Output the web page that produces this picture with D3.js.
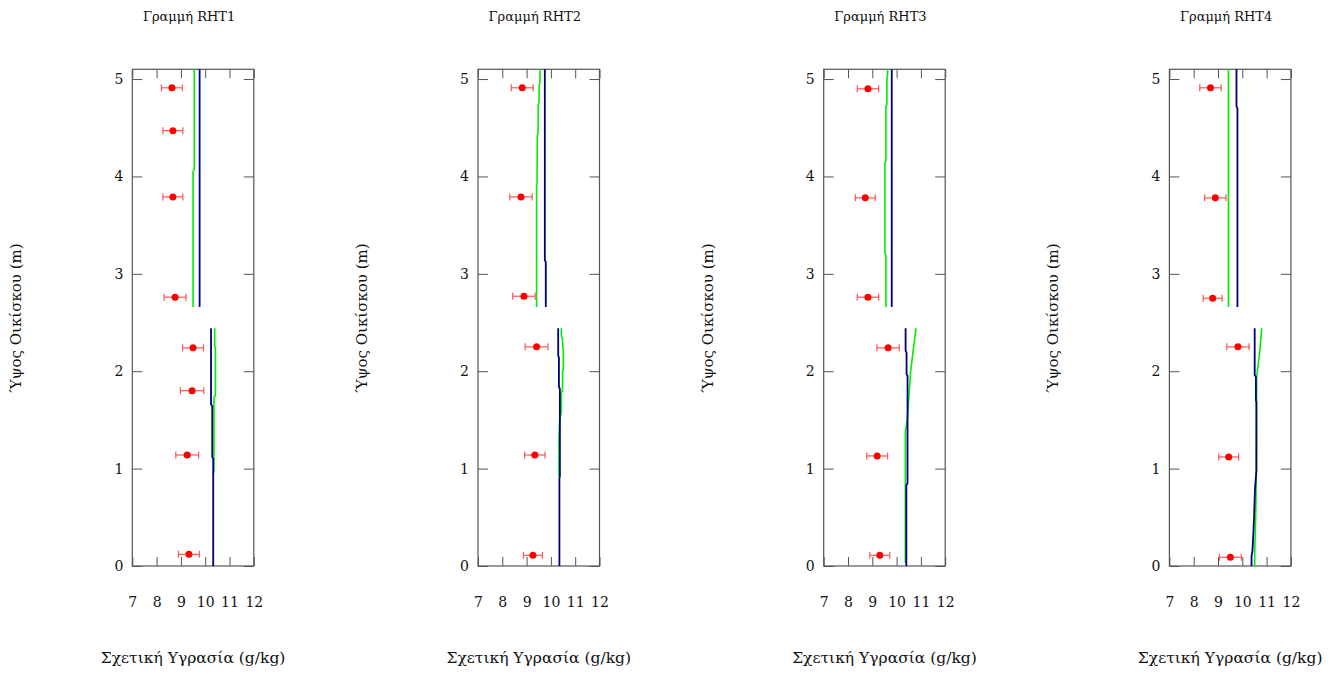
<!DOCTYPE html>
<html>
<head>
<meta charset="utf-8">
<script src="https://cdn.jsdelivr.net/npm/d3@7"></script>
<style>
  body { margin: 0; background: #fff; }
  text { font-family: "DejaVu Serif", "Liberation Serif", serif; fill: #111; }
</style>
</head>
<body>
<svg width="1337" height="675"></svg>
<script>
// panel titles
const titles = ['Γραμμή RHT1', 'Γραμμή RHT2', 'Γραμμή RHT3', 'Γραμμή RHT4']
const xTicks = [7, 8, 9, 10, 11, 12]
const yTicks = [0, 1, 2, 3, 4, 5]

// measured points: [humidity, height, error]
const rht1Points = [[8.63, 4.91, 0.43], [8.67, 4.47, 0.41], [8.67, 3.79, 0.41], [8.76, 2.76, 0.45],
                    [9.50, 2.24, 0.43], [9.46, 1.80, 0.48], [9.26, 1.14, 0.47], [9.33, 0.12, 0.43]]
const rht2Points = [[8.82, 4.91, 0.45], [8.77, 3.79, 0.46], [8.89, 2.77, 0.46],
                    [9.41, 2.25, 0.47], [9.34, 1.14, 0.42], [9.26, 0.11, 0.39]]
const rht3Points = [[8.82, 4.90, 0.44], [8.71, 3.78, 0.41], [8.82, 2.76, 0.44],
                    [9.65, 2.24, 0.46], [9.20, 1.13, 0.43], [9.31, 0.11, 0.41]]
const rht4Points = [[8.69, 4.91, 0.44], [8.89, 3.78, 0.44], [8.78, 2.75, 0.39],
                    [9.82, 2.25, 0.46], [9.44, 1.12, 0.41], [9.51, 0.09, 0.45]]

// simulated profiles (green / blue), upper and lower parts
const rht1GreenUp = [[9.55, 5.1], [9.55, 4.07], [9.50, 4.05], [9.50, 2.66]]
const rht1BlueUp = [[9.77, 5.1], [9.77, 2.66]]
const rht1GreenLo = [[10.39, 2.44], [10.39, 2.26], [10.42, 2.24], [10.42, 1.75], [10.36, 1.73], [10.36, 0.96]]
const rht1BlueLo = [[10.24, 2.44], [10.24, 1.66], [10.29, 1.64], [10.29, 1.12], [10.33, 1.10], [10.33, 0]]

const rht2GreenUp = [[9.55, 5.1], [9.55, 4.96], [9.52, 4.94], [9.51, 4.76], [9.48, 4.74], [9.47, 4.44],
                     [9.44, 4.42], [9.43, 3.93], [9.41, 3.91], [9.41, 2.66]]
const rht2BlueUp = [[9.75, 5.1], [9.75, 3.14], [9.79, 3.12], [9.79, 2.66]]
const rht2GreenLo = [[10.43, 2.44], [10.43, 2.36], [10.47, 2.34], [10.51, 2.2], [10.51, 2.03], [10.48, 2.0],
                     [10.48, 1.80], [10.43, 1.78], [10.43, 1.58], [10.36, 1.5], [10.33, 1.31], [10.33, 0.92]]
const rht2BlueLo = [[10.30, 2.44], [10.30, 2.16], [10.33, 2.14], [10.33, 1.84], [10.37, 1.82], [10.37, 0.92],
                    [10.35, 0.90], [10.35, 0]]

const rht3GreenUp = [[9.63, 5.1], [9.63, 5.04], [9.60, 5.0], [9.60, 4.74], [9.56, 4.72], [9.56, 4.16],
                     [9.52, 4.14], [9.52, 3.21], [9.56, 3.19], [9.56, 2.66]]
const rht3BlueUp = [[9.80, 5.1], [9.80, 2.66]]
const rht3GreenLo = [[10.80, 2.44], [10.70, 2.25], [10.58, 2.0], [10.50, 1.72], [10.44, 1.5], [10.36, 1.38], [10.36, 0.03]]
const rht3BlueLo = [[10.37, 2.44], [10.37, 2.21], [10.41, 2.19], [10.41, 1.97], [10.45, 1.95], [10.45, 0.85],
                    [10.40, 0.83], [10.40, 0]]

const rht4GreenUp = [[9.43, 5.1], [9.43, 2.66]]
const rht4BlueUp = [[9.76, 5.1], [9.76, 4.72], [9.80, 4.70], [9.80, 2.66]]
const rht4GreenLo = [[10.80, 2.44], [10.72, 2.2], [10.59, 1.94], [10.58, 1.0], [10.55, 0.5], [10.51, 0.15], [10.51, 0]]
const rht4BlueLo = [[10.51, 2.44], [10.51, 1.96], [10.56, 1.94], [10.56, 1.70], [10.58, 1.68], [10.58, 0.98],
                    [10.52, 0.78], [10.48, 0.47], [10.42, 0.16], [10.38, 0.1], [10.38, 0]]

const panels = [
  { points: rht1Points, green: [rht1GreenUp, rht1GreenLo], blue: [rht1BlueUp, rht1BlueLo] },
  { points: rht2Points, green: [rht2GreenUp, rht2GreenLo], blue: [rht2BlueUp, rht2BlueLo] },
  { points: rht3Points, green: [rht3GreenUp, rht3GreenLo], blue: [rht3BlueUp, rht3BlueLo] },
  { points: rht4Points, green: [rht4GreenUp, rht4GreenLo], blue: [rht4BlueUp, rht4BlueLo] }
]

//layout
const PANEL_LEFT = 132.3
const PANEL_STEP = 345.7
const PANEL_W = 121.5
const TOP = 69.3
const BOTTOM = 566

const x = d3.scaleLinear().domain([7, 12]).range([0, PANEL_W])
const y = d3.scaleLinear().domain([0, 5.1]).range([BOTTOM, TOP])

const svg = d3.select('svg')
const line = d3.line().x(d => x(d[0])).y(d => y(d[1]))
const fmt = d3.format('d')

panels.forEach((p, i) => {
  const g = svg.append('g').attr('transform', `translate(${PANEL_LEFT + i * PANEL_STEP}, 0)`)

  // ticks + labels
  const bottomAxis = g.append('g').attr('transform', `translate(0, ${BOTTOM})`)
    .call(d3.axisBottom(x).tickValues(xTicks).tickSizeInner(-9).tickSizeOuter(0).tickPadding(31).tickFormat(fmt))
  const topAxis = g.append('g').attr('transform', `translate(0, ${TOP})`)
    .call(d3.axisTop(x).tickValues(xTicks).tickSizeInner(-9).tickSizeOuter(0).tickFormat(''))
  const leftAxis = g.append('g')
    .call(d3.axisLeft(y).tickValues(yTicks).tickSizeInner(-10).tickSizeOuter(0).tickPadding(9).tickFormat(fmt))
  const rightAxis = g.append('g').attr('transform', `translate(${PANEL_W}, 0)`)
    .call(d3.axisRight(y).tickValues(yTicks).tickSizeInner(-10).tickSizeOuter(0).tickFormat(''))

  ;[bottomAxis, topAxis, leftAxis, rightAxis].forEach(a => {
    a.select('.domain').remove()
    a.selectAll('line').attr('stroke', '#555')
    a.selectAll('text').style('font-size', '14px').attr('fill', '#111')
      .style('font-family', '"DejaVu Serif", serif')
  })

  g.append('rect')
    .attr('x', 0).attr('y', TOP)
    .attr('width', PANEL_W).attr('height', BOTTOM - TOP)
    .attr('fill', 'none').attr('stroke', '#555').attr('stroke-width', 1.2)

  // profiles
  p.green.forEach(seg => {
    g.append('path').datum(seg).attr('d', line)
      .attr('fill', 'none').attr('stroke', '#00ee00').attr('stroke-width', 1.6)
  })
  p.blue.forEach(seg => {
    g.append('path').datum(seg).attr('d', line)
      .attr('fill', 'none').attr('stroke', '#00007f').attr('stroke-width', 1.8)
  })

  // error bars
  const err = g.selectAll('.err').data(p.points).enter().append('g').classed('err', true)
    .attr('stroke', '#ff5555').attr('stroke-width', 1.2)
  err.append('line')
    .attr('x1', d => x(d[0] - d[2])).attr('x2', d => x(d[0] + d[2]))
    .attr('y1', d => y(d[1])).attr('y2', d => y(d[1]))
  err.append('line')
    .attr('x1', d => x(d[0] - d[2])).attr('x2', d => x(d[0] - d[2]))
    .attr('y1', d => y(d[1]) - 3.5).attr('y2', d => y(d[1]) + 3.5)
  err.append('line')
    .attr('x1', d => x(d[0] + d[2])).attr('x2', d => x(d[0] + d[2]))
    .attr('y1', d => y(d[1]) - 3.5).attr('y2', d => y(d[1]) + 3.5)

  g.selectAll('.pt').data(p.points).enter().append('circle').classed('pt', true)
    .attr('cx', d => x(d[0])).attr('cy', d => y(d[1])).attr('r', 3.5)
    .attr('fill', '#ff0000')

  // titles
  g.append('text').text(titles[i])
    .attr('x', PANEL_W / 2 - 4).attr('y', 21)
    .attr('text-anchor', 'middle').style('font-size', '13px')

  g.append('text').text('Σχετική Υγρασία (g/kg)')
    .attr('x', PANEL_W / 2).attr('y', 663)
    .attr('text-anchor', 'middle').style('font-size', '15.5px')

  g.append('text').text('Ύψος Οικίσκου (m)')
    .attr('transform', `translate(-115, 318) rotate(-90)`)
    .attr('text-anchor', 'middle').attr('dominant-baseline', 'middle')
    .style('font-size', '15px')
})
</script>
</body>
</html>
